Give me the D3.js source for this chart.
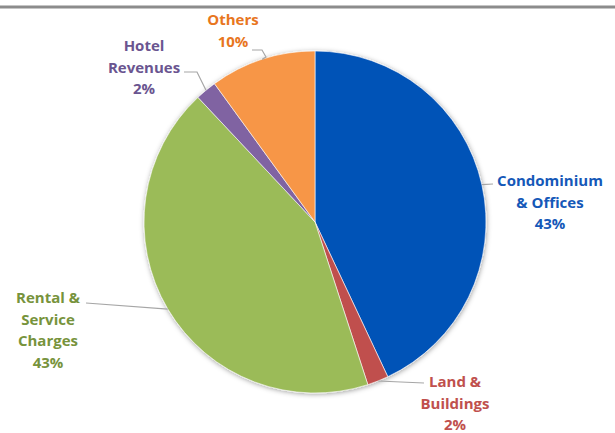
<!DOCTYPE html>
<html>
<head>
<meta charset="utf-8">
<script src="https://cdn.jsdelivr.net/npm/d3@7"></script>
<style>
  html, body { margin: 0; padding: 0; background: #ffffff; }
  svg { display: block; }
</style>
</head>
<body>
<svg id="chart" width="615" height="433"></svg>
<script>
// Revenue breakdown by segment (share of total, %)
const categories = ["Condominium\n& Offices", "Land &\nBuildings", "Rental &\nService\nCharges", "Hotel\nRevenues", "Others"];
const values = [43, 2, 43, 2, 10];

// Styling kept apart from the data
const sliceColors = ["#0553b7", "#c0504d", "#9bbb59", "#8064a2", "#f79646"];
const labelColors = ["#1558b8", "#c0504d", "#77933c", "#6a5590", "#e8761e"];

// Label placement: first-line baseline anchor and leader-line path points
const labelLayout = [
  { x: 550, y: 186, path: [[493, 184]] },
  { x: 455, y: 387, path: [[424, 383]] },
  { x: 48, y: 303, path: [[86, 303]] },
  { x: 144, y: 51, path: [[197, 72], [184, 72]] },
  { x: 233, y: 25, path: [[266, 57], [262, 50], [252, 50]] }
];

const svg = d3.select("#chart");
const cx = 315, cy = 222, r = 171;
const lineH = 21.5;

// Header rule across the top
svg.append("rect").attr("x", 0).attr("y", 5.5).attr("width", 615).attr("height", 3)
  .attr("fill", "#8c8c8c");

const defs = svg.append("defs");
const shadow = defs.append("filter").attr("id", "pieShadow")
  .attr("x", "-20%").attr("y", "-20%").attr("width", "140%").attr("height", "140%");
shadow.append("feDropShadow").attr("dx", 0.5).attr("dy", 1).attr("stdDeviation", 2.6)
  .attr("flood-color", "#000").attr("flood-opacity", 0.38);

const pie = d3.pie().sort(null).value(d => d);
const arcs = pie(values);
const arc = d3.arc().innerRadius(0).outerRadius(r);
const rimArc = d3.arc().innerRadius(r).outerRadius(r);

const g = svg.append("g").attr("transform", `translate(${cx},${cy})`);

g.append("g").attr("filter", "url(#pieShadow)")
  .selectAll("path").data(arcs).join("path")
  .attr("d", arc)
  .attr("fill", (d, i) => sliceColors[i])
  .attr("stroke", "#ffffff").attr("stroke-width", 0.6);

// Leader lines from each slice's rim midpoint to its label
const line = d3.line();
arcs.forEach((d, i) => {
  const [mx, my] = rimArc.centroid(d);
  const pts = [[cx + mx, cy + my]].concat(labelLayout[i].path);
  svg.append("path").attr("d", line(pts))
    .attr("fill", "none").attr("stroke", "#a6a6a6").attr("stroke-width", 1.2);
});

// Category + percentage labels
arcs.forEach((d, i) => {
  const lines = categories[i].split("\n").concat([d3.format(".0f")(values[i]) + "%"]);
  const t = svg.append("text")
    .attr("x", labelLayout[i].x).attr("y", labelLayout[i].y)
    .attr("text-anchor", "middle")
    .attr("font-family", "'Open Sans', Lato, sans-serif")
    .attr("font-weight", 700).attr("font-size", 15)
    .attr("fill", labelColors[i]);
  lines.forEach((s, k) => {
    t.append("tspan").attr("x", labelLayout[i].x).attr("y", labelLayout[i].y + k * lineH).text(s);
  });
});
</script>
</body>
</html>
